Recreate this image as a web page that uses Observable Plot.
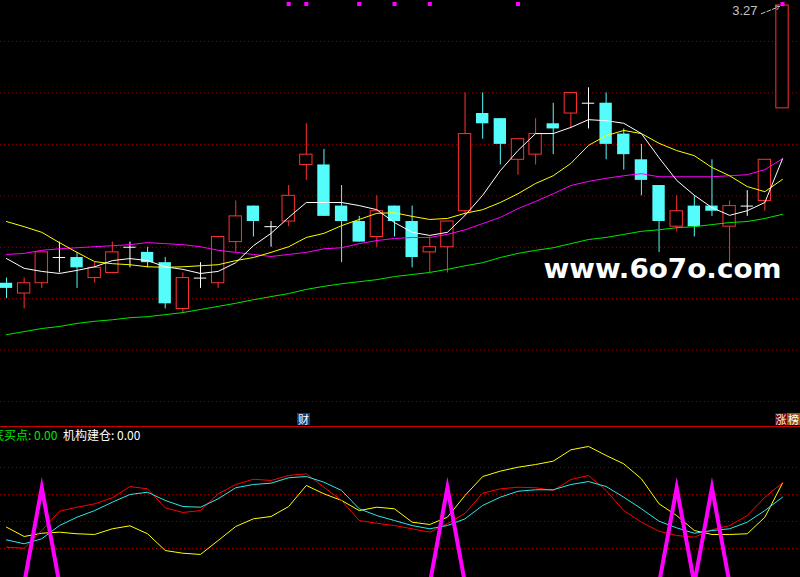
<!DOCTYPE html>
<html><head><meta charset="utf-8">
<script src="https://cdn.jsdelivr.net/npm/d3@7"></script>
<script src="https://cdn.jsdelivr.net/npm/@observablehq/plot@0.6"></script>
<style>
html,body{margin:0;padding:0;background:#000;overflow:hidden}
#wrap{position:relative;width:800px;height:577px;background:#000;overflow:hidden;font-family:"Noto Sans CJK SC","Noto Sans",sans-serif}
#wrap svg{display:block}
.tag{position:absolute;top:413px;height:12px;font-size:11px;line-height:12px;color:#fff;text-align:center;font-family:"Noto Sans CJK SC",sans-serif}
.leg{position:absolute;top:428px;font-size:12px;line-height:13px;white-space:nowrap;font-family:"Noto Sans CJK SC",sans-serif}
</style></head><body><div id="wrap"></div>
<script>
// ---------- data (daily K-line, 45 bars) ----------
const open  = [2.73,2.71,2.73,2.78,2.78,2.74,2.75,2.80,2.79,2.77,2.68,2.74,2.73,2.81,2.88,2.84,2.85,2.96,2.96,2.88,2.85,2.82,2.88,2.85,2.79,2.80,2.87,3.06,3.05,2.97,2.98,3.04,3.06,3.08,3.08,3.02,2.97,2.92,2.84,2.88,2.88,2.84,2.88,2.89,3.07];
const high  = [2.74,2.74,2.79,2.81,2.79,2.77,2.81,2.81,2.80,2.78,2.75,2.77,2.82,2.89,2.88,2.85,2.92,3.04,2.99,2.92,2.86,2.90,2.88,2.88,2.82,2.85,3.10,3.10,3.05,3.01,3.05,3.08,3.10,3.11,3.10,3.03,3.00,2.92,2.90,2.90,2.97,2.89,2.91,2.97,3.27];
const low   = [2.70,2.68,2.72,2.75,2.72,2.73,2.75,2.76,2.76,2.68,2.67,2.72,2.72,2.79,2.82,2.80,2.84,2.93,2.86,2.77,2.81,2.80,2.82,2.76,2.75,2.75,2.86,3.01,2.96,2.94,2.96,2.98,3.03,3.03,2.97,2.95,2.90,2.79,2.83,2.82,2.86,2.76,2.86,2.87,3.07];
const close = [2.72,2.73,2.79,2.78,2.76,2.76,2.79,2.80,2.77,2.69,2.74,2.74,2.82,2.86,2.85,2.84,2.90,2.98,2.86,2.85,2.81,2.87,2.85,2.78,2.80,2.85,3.02,3.04,3.00,3.01,3.02,3.03,3.10,3.08,3.00,2.98,2.93,2.85,2.87,2.84,2.87,2.88,2.88,2.97,3.27];

const ma5  = [2.778,2.759,2.753,2.749,2.755,2.762,2.774,2.778,2.774,2.762,2.757,2.749,2.753,2.770,2.803,2.827,2.858,2.887,2.887,2.887,2.881,2.873,2.848,2.829,2.823,2.829,2.862,2.901,2.949,2.988,3.021,3.021,3.033,3.048,3.046,3.041,3.021,2.974,2.930,2.901,2.877,2.862,2.871,2.887,2.972];
const ma10 = [2.850,2.840,2.829,2.809,2.790,2.772,2.768,2.766,2.762,2.761,2.762,2.764,2.766,2.774,2.780,2.790,2.801,2.819,2.827,2.842,2.854,2.866,2.867,2.860,2.854,2.856,2.866,2.873,2.887,2.904,2.924,2.939,2.963,2.998,3.017,3.027,3.021,3.002,2.988,2.978,2.955,2.939,2.918,2.908,2.932];
const ma20 = [2.786,2.788,2.794,2.797,2.799,2.801,2.803,2.805,2.809,2.807,2.805,2.801,2.794,2.790,2.786,2.782,2.786,2.790,2.797,2.799,2.807,2.813,2.817,2.819,2.819,2.825,2.834,2.846,2.858,2.875,2.889,2.904,2.920,2.928,2.934,2.939,2.943,2.937,2.937,2.937,2.937,2.939,2.941,2.951,2.972];
const ma60 = [2.630,2.636,2.642,2.646,2.652,2.656,2.659,2.663,2.665,2.669,2.673,2.679,2.685,2.691,2.698,2.704,2.710,2.718,2.724,2.729,2.733,2.737,2.743,2.747,2.751,2.757,2.764,2.770,2.780,2.788,2.794,2.799,2.807,2.815,2.819,2.825,2.831,2.834,2.838,2.840,2.844,2.848,2.850,2.856,2.864];

const gridPrices = [3.2,3.1,3.0,2.9,2.8,2.7,2.6,2.5];
const signalBars = [16,17,20,22,24,29,44];
const maxLabel = 3.27;
const watermark = "www.6o7o.com";

// lower indicator pane
const indRed    = [21.0,20.2,33.3,47.6,50.6,53.1,57.6,65.9,64.2,50.1,46.7,48.1,60.5,67.4,71.3,70.4,74.1,75.3,65.4,55.6,40.7,38.7,37.0,34.6,32.1,38.3,46.1,61.0,64.2,65.4,65.0,63.0,71.1,74.1,63.0,48.1,39.5,32.8,29.6,28.4,33.9,37.0,44.4,58.0,68.7];
const indCyan   = [26.4,23.5,27.2,37.0,43.2,48.1,54.3,60.0,61.7,55.6,51.1,50.6,56.8,65.0,67.4,68.4,72.4,73.3,69.1,63.0,49.4,44.4,40.7,37.0,34.6,37.0,42.0,51.9,58.0,62.4,63.5,63.5,67.4,69.6,65.9,58.0,49.4,40.2,35.3,31.3,33.3,34.6,39.5,48.1,58.0];
const indYellow = [35.8,28.9,31.3,32.1,30.9,30.4,34.6,36.8,30.9,18.5,16.5,15.6,25.9,36.3,42.0,43.7,51.1,66.7,60.5,55.6,48.1,50.6,49.4,39.5,37.8,43.2,59.3,73.3,77.3,80.2,82.2,84.7,93.1,95.6,88.9,82.7,71.6,53.1,44.4,33.3,30.4,30.4,30.9,43.2,68.4];
// signal spikes: low level sits just below the visible pane
const indSpike  = [-6,-6,65,-6,-6,-6,-6,-6,-6,-6,-6,-6,-6,-6,-6,-6,-6,-6,-6,-6,-6,-6,-6,-6,-6,65,-6,-6,-6,-6,-6,-6,-6,-6,-6,-6,-6,-6,65,-6,65,-6,-6,-6,-6];
const indGrid = [20,40,60,80];
const legendName1 = "底买点", legendVal1 = 0.00;
const legendName2 = "机构建仓", legendVal2 = 0.00;

// ---------- build ----------
const RED = "#ff3232", CYAN = "#54fcfc";
const idx = d3.range(open.length);
const bars = idx.map(i => ({i, o: open[i], h: high[i], l: low[i], c: close[i]}));
const up = bars.filter(d => d.c > d.o);
const dn = bars.filter(d => d.c < d.o);
const flat = bars.filter(d => d.c === d.o);
const hw = 0.35;
const xDom = [-0.34, 45.02];
const hiBar = bars[bars.length - 1];

const pricePane = Plot.plot({
  width: 800, height: 426, margin: 0,
  style: {background: "#000", overflow: "hidden"},
  x: {type: "linear", domain: xDom, axis: null},
  y: {domain: [2.4515, 3.2797], axis: null},
  marks: [
    Plot.ruleY(gridPrices, {stroke: "#9a0000", strokeDasharray: "1,3"}),
    Plot.ruleX(up, {x: "i", y1: "l", y2: "h", stroke: RED}),
    Plot.ruleX(dn, {x: "i", y1: "l", y2: "h", stroke: CYAN}),
    Plot.ruleX(flat, {x: "i", y1: "l", y2: "h", stroke: "#fff"}),
    Plot.rect(up, {x1: d => d.i - hw, x2: d => d.i + hw, y1: "o", y2: "c", fill: "#000", stroke: RED}),
    Plot.rect(dn, {x1: d => d.i - hw, x2: d => d.i + hw, y1: "o", y2: "c", fill: CYAN}),
    Plot.ruleY(flat, {y: "c", x1: d => d.i - hw, x2: d => d.i + hw, stroke: "#fff"}),
    Plot.line(idx, {x: d => d, y: d => ma60[d], stroke: "#00e800", strokeWidth: 1}),
    Plot.line(idx, {x: d => d, y: d => ma20[d], stroke: "#ff00ff", strokeWidth: 1}),
    Plot.line(idx, {x: d => d, y: d => ma10[d], stroke: "#ffff00", strokeWidth: 1}),
    Plot.line(idx, {x: d => d, y: d => ma5[d], stroke: "#ffffff", strokeWidth: 1}),
    Plot.dot(signalBars, {x: d => d, frameAnchor: "top", dy: 3.5, symbol: "square", r: 2.3, fill: "#ff00ff"}),
    Plot.text([maxLabel], {x: hiBar.i, y: d => d, text: d => d.toFixed(2), dx: -25, dy: 5, textAnchor: "end", fill: "#c4c4c4", fontSize: 13, fontFamily: "Liberation Sans"}),
    Plot.arrow([maxLabel], {x1: hiBar.i - 1.2, y1: d => d - 0.016, x2: hiBar.i - 0.17, y2: d => d - 0.002, stroke: "#c4c4c4", strokeDasharray: "4,2", headLength: 6, strokeWidth: 1}),
    Plot.text([watermark], {text: d => d, frameAnchor: "top-left", dx: 543, dy: 259, textAnchor: "start", fill: "#fff", fontSize: 26, fontWeight: "bold", fontFamily: "DejaVu Sans"})
  ]
});

const indPane = Plot.plot({
  width: 800, height: 151, margin: 0,
  style: {background: "#000", overflow: "hidden"},
  x: {type: "linear", domain: xDom, axis: null},
  y: {domain: [-1.48, 110.37], axis: null},
  marks: [
    Plot.ruleY(indGrid, {stroke: "#9a0000", strokeDasharray: "1,3"}),
    Plot.ruleY([110.37], {stroke: "#c80000"}),
    Plot.line(idx, {x: d => d, y: d => indYellow[d], stroke: "#ffff00", strokeWidth: 1}),
    Plot.line(idx, {x: d => d, y: d => indRed[d], stroke: "#ff0000", strokeWidth: 1}),
    Plot.line(idx, {x: d => d, y: d => indCyan[d], stroke: "#2ee8e8", strokeWidth: 1}),
    Plot.line(idx, {x: d => d, y: d => indSpike[d], stroke: "#ff00ff", strokeWidth: 4, strokeLinejoin: "miter", strokeMiterlimit: 10})
  ]
});

const wrap = document.getElementById("wrap");
wrap.appendChild(pricePane);
wrap.appendChild(indPane);

// stretch watermark to its measured width
d3.select(pricePane).selectAll("text").filter(function() { return this.textContent === watermark; })
  .attr("textLength", 238).attr("lengthAdjust", "spacingAndGlyphs");

// tags and legend
function addDiv(cls, css, html) {
  const el = document.createElement("div");
  el.className = cls; el.style.cssText = css; el.innerHTML = html;
  wrap.appendChild(el);
}
addDiv("tag", "left:297px;width:13px;background:#123c7c;", "财");
addDiv("tag", "left:775px;width:12px;background:#7c0000;", "涨");
addDiv("tag", "left:787px;width:13px;background:#8c5a1c;", "榜");
addDiv("leg", "left:-8px;color:#00e800;", legendName1 + ": " + legendVal1.toFixed(2));
addDiv("leg", "left:63px;color:#ffffff;", legendName2 + ": " + legendVal2.toFixed(2));
</script></body></html>
